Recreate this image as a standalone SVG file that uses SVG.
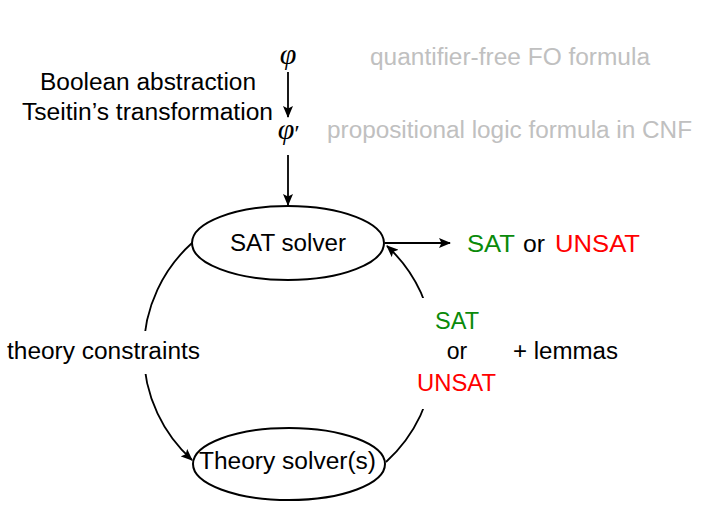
<svg xmlns="http://www.w3.org/2000/svg" width="708" height="507" viewBox="0 0 708 507">
  <style>
    .t { font-family: "Liberation Sans", Arial, sans-serif; font-size: 23px; fill: #000; }
    .g { fill: #c0c0c0; }
    .grn { fill: #0a8a0a; }
    .red { fill: #ff0000; }
    .phi { font-family: "Liberation Serif", "DejaVu Serif", serif; font-style: italic; font-size: 30px; fill: #000; }
    .prime { font-family: "Liberation Serif", serif; font-style: italic; font-size: 24px; fill: #000; }
    .node { fill: #fff; stroke: #000; stroke-width: 2; }
    .edge { fill: none; stroke: #000; stroke-width: 1.8; }
  </style>
  <defs>
    <marker id="arr" viewBox="0 0 12 10" refX="11" refY="5" markerWidth="12" markerHeight="10" markerUnits="userSpaceOnUse" orient="auto">
      <path d="M0,0 L12,5 L0,10 L2.5,5 z" fill="#000"/>
    </marker>
  </defs>

  <g id="connectors">
    <path class="edge" d="M288,72 L288,117" marker-end="url(#arr)"/>
    <path class="edge" d="M288,155 L288,205" marker-end="url(#arr)"/>
    <path class="edge" d="M385,243 L450,243" marker-end="url(#arr)"/>
    <path class="edge" d="M192,243 A146,146 0 0 0 192,460" marker-end="url(#arr)"/>
    <path class="edge" d="M386,462 A146,146 0 0 0 387,246" marker-end="url(#arr)"/>
    <rect x="0" y="331" width="206" height="43" fill="#fff"/>
    <rect x="412" y="298" width="90" height="111" fill="#fff"/>
  </g>

  <g id="phi">
    <text class="phi" x="288" y="64" text-anchor="middle">φ</text>
  </g>
  <g id="phi-prime">
    <text class="phi" x="286" y="139" text-anchor="middle">φ</text>
    <text class="prime" x="293" y="141">′</text>
  </g>

  <g id="labels-left">
    <text class="t" x="40" y="90" textLength="216" lengthAdjust="spacingAndGlyphs">Boolean abstraction</text>
    <text class="t" x="22" y="120" textLength="251" lengthAdjust="spacingAndGlyphs">Tseitin’s transformation</text>
  </g>
  <g id="labels-gray">
    <text class="t g" x="370" y="65" textLength="280" lengthAdjust="spacingAndGlyphs">quantifier-free FO formula</text>
    <text class="t g" x="327" y="138" textLength="365" lengthAdjust="spacingAndGlyphs">propositional logic formula in CNF</text>
  </g>

  <g id="sat-solver">
    <ellipse class="node" cx="288" cy="243" rx="96" ry="37"/>
    <text class="t" x="230" y="251" textLength="116" lengthAdjust="spacingAndGlyphs">SAT solver</text>
  </g>

  <g id="result">
    <text class="t grn" x="467" y="252" textLength="48" lengthAdjust="spacingAndGlyphs">SAT</text>
    <text class="t" x="523" y="252" textLength="22" lengthAdjust="spacingAndGlyphs">or</text>
    <text class="t red" x="555" y="252" textLength="85" lengthAdjust="spacingAndGlyphs">UNSAT</text>
  </g>

  <g id="theory-solver">
    <ellipse class="node" cx="289" cy="464" rx="96" ry="36"/>
    <text class="t" x="199" y="469" textLength="177" lengthAdjust="spacingAndGlyphs">Theory solver(s)</text>
  </g>

  <g id="edge-labels">
    <text class="t" x="7" y="359" textLength="193" lengthAdjust="spacingAndGlyphs">theory constraints</text>
    <text class="t grn" x="435" y="329" textLength="44" lengthAdjust="spacingAndGlyphs">SAT</text>
    <text class="t" x="457" y="359" text-anchor="middle">or</text>
    <text class="t red" x="417" y="391" textLength="79" lengthAdjust="spacingAndGlyphs">UNSAT</text>
    <text class="t" x="513" y="359" textLength="105" lengthAdjust="spacingAndGlyphs">+ lemmas</text>
  </g>
</svg>
